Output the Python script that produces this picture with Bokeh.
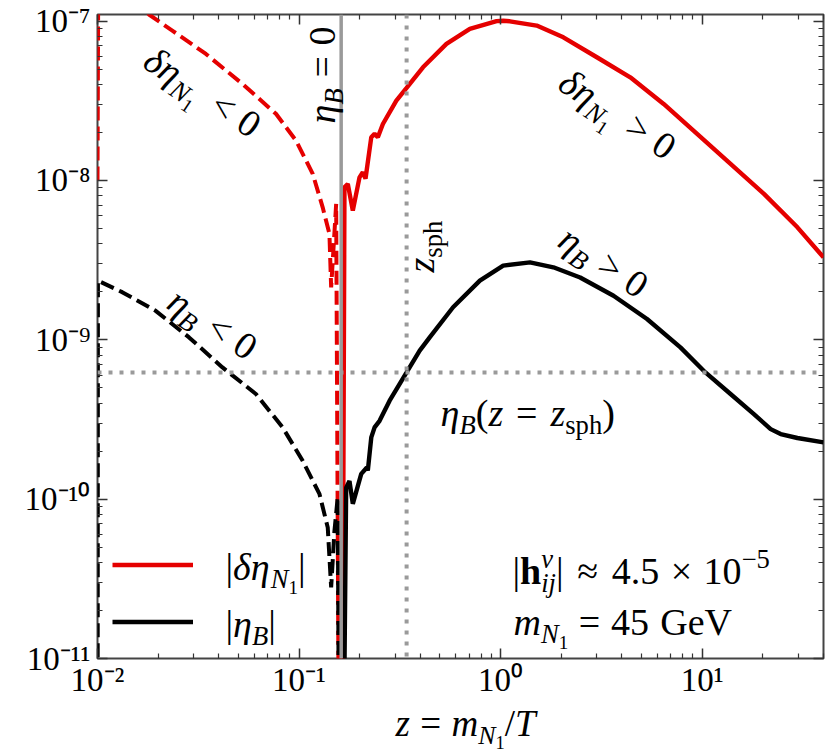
import math
from bokeh.plotting import figure
from bokeh.layouts import column
from bokeh.models import (Range1d, LogAxis, FixedTicker, CustomJSTickFormatter,
                          Span, Label, Legend, LegendItem)
from bokeh.embed import file_html
from bokeh.resources import INLINE

# ---------------- data ----------------
z_red_neg = [0.0100, 0.0101, 0.0140, 0.0180, 0.0235, 0.0345, 0.0524, 0.0768,
             0.0966, 0.1169, 0.1310, 0.1415, 0.1443, 0.1528, 0.1595]
v_red_neg = [1.0e-8, 3.0e-7, 1.6e-7, 1.1e-7, 8.72e-8, 6.22e-8, 4.03e-8, 2.62e-8,
             1.78e-8, 1.10e-8, 6.78e-9, 4.62e-9, 2.13e-9, 7.12e-9, 1e-13]

z_red_pos = [0.1625, 0.168, 0.1745, 0.1848, 0.1995, 0.2072, 0.2137, 0.2282, 0.2370,
             0.2460, 0.2606, 0.3039, 0.3417, 0.412, 0.5386, 0.7036, 0.955, 1.03,
             1.112, 1.51, 2.048, 3.003, 4.399, 6.442, 9.44, 13.83, 20.26, 29.69, 40.0]
v_red_pos = [1e-13, 9.05e-9, 9.51e-9, 6.46e-9, 1.046e-8, 1.125e-8, 1.026e-8, 1.865e-8,
             1.96e-8, 1.865e-8, 2.26e-8, 3.17e-8, 3.81e-8, 5.13e-8, 7.19e-8, 8.93e-8,
             1.0e-7, 1.005e-7, 0.997e-7, 9.37e-8, 7.91e-8, 5.93e-8, 4.44e-8, 3.02e-8,
             1.96e-8, 1.27e-8, 8.23e-9, 5.08e-9, 3.29e-9]

z_blk_neg = [0.0100, 0.01005, 0.01326, 0.01944, 0.02846, 0.04169, 0.0611, 0.0829,
             0.1042, 0.1262, 0.1388, 0.1443, 0.1498, 0.1556, 0.1595]
v_blk_neg = [1e-13, 2.35e-9, 1.99e-9, 1.52e-9, 1.035e-9, 6.71e-10, 4.57e-10, 2.82e-10,
             1.74e-10, 1.08e-10, 6.64e-11, 2.79e-11, 6.3e-11, 1.03e-10, 1e-13]

z_blk_pos = [0.1625, 0.1713, 0.1779, 0.1848, 0.2035, 0.2170, 0.2194, 0.2282, 0.2370,
             0.2509, 0.2814, 0.3417, 0.3968, 0.4449, 0.581, 0.789, 1.030, 1.399, 1.827,
             2.481, 3.633, 5.326, 7.80, 10.38, 13.83, 18.06, 21.87, 24.52, 29.69, 40.0]
v_blk_pos = [1e-13, 1.18e-10, 1.30e-10, 9.35e-11, 1.44e-10, 1.58e-10, 1.51e-10, 2.44e-10,
             2.82e-10, 3.10e-10, 4.15e-10, 6.24e-10, 8.55e-10, 1.035e-9, 1.60e-9, 2.35e-9,
             2.92e-9, 3.06e-9, 2.85e-9, 2.46e-9, 1.89e-9, 1.35e-9, 8.96e-10, 6.24e-10,
             4.57e-10, 3.42e-10, 2.75e-10, 2.56e-10, 2.42e-10, 2.27e-10]

z_zero = 0.1618        # eta_B = 0
z_sph = 0.3417         # sphaleron decoupling
eta_sph = 6.24e-10     # eta_B(z = z_sph)

x_major = [0.01, 0.1, 1.0, 10.0]
y_major = [1e-11, 1e-10, 1e-9, 1e-8, 1e-7]

# ---------------- layout constants (page pixels) ----------------
FONT = "Liberation Serif"
RED = "#e50000"
GRAY = "#9a9a9a"
FRAME_L, FRAME_T, FRAME_W, FRAME_H = 97, 14, 726, 644
FRAME_B = FRAME_T + FRAME_H
BORDER_B = 42
H1 = FRAME_T + FRAME_H + BORDER_B
W_TOTAL = 827
BORDER_R = W_TOTAL - FRAME_L - FRAME_W
H2 = 56
TXT = 38

p = figure(x_axis_type="log", y_axis_type="log",
           x_range=Range1d(0.01, 40.0), y_range=Range1d(1e-11, 1.1e-7),
           frame_width=FRAME_W, frame_height=FRAME_H,
           min_border_left=FRAME_L, min_border_right=BORDER_R,
           min_border_top=FRAME_T, min_border_bottom=BORDER_B,
           output_backend="svg", toolbar_location=None)
p.xgrid.visible = False
p.ygrid.visible = False
p.outline_line_color = "#444444"
p.outline_line_width = 2
p.background_fill_color = "white"
p.border_fill_color = "white"

x_minor = [k * d for d in [0.01, 0.1, 1.0, 10.0] for k in range(2, 10) if k * d <= 40]
y_minor = [k * d for d in [1e-11, 1e-10, 1e-9, 1e-8] for k in range(2, 10)]

fmt_code = """
const e = Math.round(Math.log10(tick));
const sup = {"-": "\u207b", "0": "\u2070", "1": "\u00b9", "2": "\u00b2", "3": "\u00b3",
             "4": "\u2074", "5": "\u2075", "6": "\u2076", "7": "\u2077", "8": "\u2078", "9": "\u2079"};
return "10" + String(e).split("").map(c => sup[c]).join("");
"""


def style_axis(ax, ticks, minor, labels=True):
    ax.ticker = FixedTicker(ticks=ticks, minor_ticks=minor)
    ax.axis_line_color = None
    ax.major_tick_in = 10
    ax.major_tick_out = 0
    ax.minor_tick_in = 5
    ax.minor_tick_out = 0
    ax.major_tick_line_color = "#333333"
    ax.minor_tick_line_color = "#333333"
    ax.major_tick_line_width = 1.5
    ax.minor_tick_line_width = 1.2
    if labels:
        ax.formatter = CustomJSTickFormatter(code=fmt_code)
        ax.major_label_text_font = FONT
        ax.major_label_text_font_size = "33px"
        ax.major_label_text_color = "black"
    else:
        ax.formatter = CustomJSTickFormatter(code='return "";')
        ax.major_label_text_font_size = "0px"
        ax.major_label_standoff = 0


style_axis(p.xaxis[0], x_major, x_minor)
style_axis(p.yaxis[0], y_major, y_minor)
p.xaxis[0].major_label_standoff = 3
p.yaxis[0].major_label_standoff = 7

top_ax = LogAxis()
right_ax = LogAxis()
style_axis(top_ax, x_major, x_minor, labels=False)
style_axis(right_ax, y_major, y_minor, labels=False)
p.add_layout(top_ax, "above")
p.add_layout(right_ax, "right")

# ---------------- curves ----------------
p.line(z_red_neg, v_red_neg, line_color=RED, line_width=4, line_dash="14 6")
p.line(z_blk_neg, v_blk_neg, line_color="black", line_width=4, line_dash="14 6")
r_red = p.line(z_red_pos, v_red_pos, line_color=RED, line_width=4.4)
r_blk = p.line(z_blk_pos, v_blk_pos, line_color="black", line_width=4.4)

p.add_layout(Span(location=z_zero, dimension="height", line_color=GRAY, line_width=3.5))
p.add_layout(Span(location=z_sph, dimension="height", line_color=GRAY, line_width=4,
                  line_dash="4 7"))
p.add_layout(Span(location=eta_sph, dimension="width", line_color=GRAY, line_width=4,
                  line_dash="4 7"))

# ---------------- legend (handles) ----------------
legend = Legend(items=[LegendItem(label=" ", renderers=[r_red]),
                       LegendItem(label=" ", renderers=[r_blk])],
                location=(112 - FRAME_L, FRAME_B - (564 - 28.5 + 114)),
                glyph_width=81, glyph_height=57, spacing=0, padding=0, margin=0,
                label_standoff=0, label_width=1, label_height=1,
                label_text_font_size="1px",
                border_line_alpha=0, background_fill_alpha=0)
p.add_layout(legend)

# ---------------- strip below the plot for the x-axis title ----------------
# data units of this strip are page pixels (y grows downwards)
p2 = figure(frame_width=FRAME_W, frame_height=H2,
            x_range=Range1d(FRAME_L, FRAME_L + FRAME_W), y_range=Range1d(H1 + H2, H1),
            x_axis_location=None, y_axis_location=None,
            min_border_left=FRAME_L, min_border_right=BORDER_R,
            min_border_top=0, min_border_bottom=0,
            output_backend="svg", toolbar_location=None)
p2.xgrid.visible = False
p2.ygrid.visible = False
p2.outline_line_color = None
p2.background_fill_color = "white"
p2.border_fill_color = "white"

# ---------------- rich text helper ----------------
W_R = {' ': 0.25, '|': 0.2, '(': 0.333, ')': 0.333, '=': 0.564, '<': 0.564, '>': 0.564,
       '.': 0.25, '\u00d7': 0.564, '\u2248': 0.549, '\u2212': 0.564, '/': 0.278,
       'G': 0.722, 'e': 0.444, 'V': 0.722, 's': 0.389, 'p': 0.5, 'h': 0.5}
W_I = {'\u03b4': 0.49, '\u03b7': 0.5, '\u03bd': 0.44, 'N': 0.667, 'B': 0.611, 'z': 0.389,
       'm': 0.722, 'T': 0.556, 'i': 0.278, 'j': 0.278, ' ': 0.25}
W_B = {'h': 0.556}

KINDS = {
    'r': (1.0, 0.0, 'normal'),
    'i': (1.0, 0.0, 'italic'),
    'b': (1.0, 0.0, 'bold'),
    'si': (0.7, -0.22, 'italic'),
    'sr': (0.7, -0.22, 'normal'),
    'ssr': (0.5, -0.36, 'normal'),
    'sup': (0.7, 0.42, 'normal'),
    'supi': (0.7, 0.42, 'italic'),
}
BASE_FIX = 0.32   # empirical shift: rendered glyphs sit this many em below the anchor


def text_width(s, size, style):
    table = W_I if style == 'italic' else (W_B if style == 'bold' else W_R)
    return sum(table.get(c, 0.5) for c in s) * size


def rich(fig, px, py, pieces, size=TXT, angle_deg=0.0, center=False, page_data=False):
    """Mixed text whose baseline starts at page pixel (px, py)."""
    a = math.radians(angle_deg)
    ca, sa = math.cos(a), math.sin(a)
    if center:
        total = 0.0
        for pc in pieces:
            if pc[1] == 'gap':
                total += pc[2] * size
                continue
            f, _, st = KINDS[pc[1]]
            if len(pc) < 3 or pc[2]:
                total += text_width(pc[0], size * f, st)
        px -= total / 2.0
    adv = 0.0
    for pc in pieces:
        if pc[1] == 'gap':
            adv += pc[2] * size
            continue
        text, kind = pc[0], pc[1]
        advance = pc[2] if len(pc) > 2 else True
        f, shift, style = KINDS[kind]
        fs = size * f
        dx, dy = adv, shift * size + BASE_FIX * fs
        ox = dx * ca - dy * sa
        oy = dx * sa + dy * ca
        common = dict(text=text, angle=a, text_font=FONT,
                      text_font_size=f"{fs:.1f}px", text_font_style=style,
                      text_align="left", text_baseline="alphabetic", text_color="black")
        if page_data:
            lab = Label(x=px, y=py, x_offset=ox, y_offset=oy, **common)
        else:
            lab = Label(x=px - FRAME_L + ox, y=FRAME_B - py + oy,
                        x_units="screen", y_units="screen", **common)
        fig.add_layout(lab)
        if advance:
            adv += text_width(text, fs, style)


def T(px, py, pieces, **kw):
    rich(p, px, py, pieces, **kw)


# legend texts
T(225, 579, [("|", 'r'), ("\u03b4\u03b7", 'i'), ("N", 'si'), ("1", 'ssr'), ("|", 'r')])
T(225, 636, [("|", 'r'), ("\u03b7", 'i'), ("B", 'si'), ("|", 'r')])

# parameter box
T(512, 583, [("|", 'r'), ("h", 'b'), ("\u03bd", 'supi', False), ("ij", 'si'), ("|", 'r'),
             ("", 'gap', 0.36), ("\u2248", 'r'), ("", 'gap', 0.36), ("4.5", 'r'),
             ("", 'gap', 0.3), ("\u00d7", 'r'), ("", 'gap', 0.3), ("10", 'r'),
             ("\u22125", 'sup')])
T(513, 634, [("m", 'i'), ("N", 'si'), ("1", 'ssr'), ("", 'gap', 0.28), ("=", 'r'),
             ("", 'gap', 0.28), ("45", 'r'), ("", 'gap', 0.3), ("GeV", 'r')])

# curve annotations
T(440, 425, [("\u03b7", 'i'), ("B", 'si'), ("(", 'r'), ("z", 'i'), ("", 'gap', 0.34),
             ("=", 'r'), ("", 'gap', 0.34), ("z", 'i'), ("sph", 'sr'), (")", 'r')])
T(141, 65, [("\u03b4\u03b7", 'i'), ("N", 'si'), ("1", 'ssr'), ("", 'gap', 0.4),
            ("<", 'r'), ("", 'gap', 0.28), ("0", 'r')], angle_deg=-34)
T(556, 87, [("\u03b4\u03b7", 'i'), ("N", 'si'), ("1", 'ssr'), ("", 'gap', 0.4),
            (">", 'r'), ("", 'gap', 0.28), ("0", 'r')], angle_deg=-34)
T(556, 244, [("\u03b7", 'i'), ("B", 'si'), ("", 'gap', 0.3), (">", 'r'),
             ("", 'gap', 0.28), ("0", 'r')], angle_deg=-34)
T(165, 306, [("\u03b7", 'i'), ("B", 'si'), ("", 'gap', 0.3), ("<", 'r'),
             ("", 'gap', 0.28), ("0", 'r')], angle_deg=-34)
T(334, 123, [("\u03b7", 'i'), ("B", 'si'), ("", 'gap', 0.28), ("=", 'r'),
             ("", 'gap', 0.28), ("0", 'r')], angle_deg=90)
T(433, 272, [("z", 'i'), ("sph", 'sr')], angle_deg=90)

# x-axis title, in the strip below the plot (page-pixel data units)
rich(p2, 465, 735,
     [("z", 'i'), ("", 'gap', 0.28), ("=", 'r'), ("", 'gap', 0.28), ("m", 'i'),
      ("N", 'si'), ("1", 'ssr'), ("/", 'r'), ("T", 'i')],
     size=37, center=True, page_data=True)

layout = column(p, p2, spacing=0)
open("out.html", "w").write(file_html(layout, INLINE))
